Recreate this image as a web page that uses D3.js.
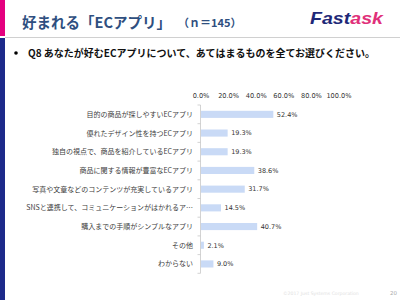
<!DOCTYPE html>
<html>
<head>
<meta charset="utf-8">
<script src="https://cdn.jsdelivr.net/npm/d3@7"></script>
<style>
  body { margin: 0; background: #fff; }
  svg { display: block; }
</style>
</head>
<body>
<svg id="chart" width="400" height="300"></svg>
<script>
// data
var categories = [
  "目的の商品が探しやすいECアプリ",
  "優れたデザイン性を持つECアプリ",
  "独自の視点で、商品を紹介しているECアプリ",
  "商品に関する情報が豊富なECアプリ",
  "写真や文章などのコンテンツが充実しているアプリ",
  "SNSと連携して、コミュニケーションがはかれるア…",
  "購入までの手順がシンプルなアプリ",
  "その他",
  "わからない"
];
var values = [52.4, 19.3, 19.3, 38.6, 31.7, 14.5, 40.7, 2.1, 9.0];
var tickValues = [0, 20, 40, 60, 80, 100];

var jp = "'Noto Sans CJK JP', 'Noto Sans', sans-serif";
var num = "'DejaVu Sans', Verdana, sans-serif";

const svg = d3.select("#chart");

// side stripe + header rule
svg.append("rect").attr("x", 0).attr("y", 0).attr("width", 5).attr("height", 36).attr("fill", "#e4007f");
svg.append("rect").attr("x", 0).attr("y", 38).attr("width", 5).attr("height", 262).attr("fill", "#1d2a8a");
svg.append("line").attr("x1", 5).attr("x2", 400).attr("y1", 37.5).attr("y2", 37.5)
  .attr("stroke", "#d0d0d0").attr("stroke-width", 1);

// title
svg.append("text").attr("x", 22).attr("y", 28)
  .attr("font-family", jp).attr("font-weight", "bold").attr("font-size", "14.5px")
  .attr("fill", "#2f4f80").text("好まれる「ECアプリ」");
svg.append("text").attr("x", 178).attr("y", 27)
  .attr("font-family", jp).attr("font-weight", "bold").attr("font-size", "11px")
  .attr("fill", "#2f4f80").text("（ｎ＝145）");

// logo
var logo = svg.append("text").attr("x", 310).attr("y", 24)
  .attr("font-family", "'Liberation Sans', Arial, sans-serif")
  .attr("font-weight", "bold").attr("font-style", "italic").attr("font-size", "17px")
  .attr("textLength", 73).attr("lengthAdjust", "spacingAndGlyphs");
logo.append("tspan").attr("fill", "#1e2878").text("Fast");
logo.append("tspan").attr("fill", "#e0307a").text("ask");

// question
svg.append("circle").attr("cx", 16).attr("cy", 53).attr("r", 1.8).attr("fill", "#000");
svg.append("text").attr("x", 28).attr("y", 57)
  .attr("font-family", jp).attr("font-weight", "bold").attr("font-size", "10px")
  .attr("fill", "#111").text("Q8 あなたが好むECアプリについて、あてはまるものを全てお選びください。");

// scales
var x = d3.scaleLinear().domain([0, 100]).range([200.5, 338.5]);
var y = d3.scaleBand().domain(categories).range([105, 273.3]).padding(0);
var barH = y.bandwidth() * 0.38;

// top axis labels
var xAxis = d3.axisTop(x).tickValues(tickValues).tickSize(0).tickPadding(0)
  .tickFormat(function (d) { return d3.format(".1f")(d) + "%"; });
var gx = svg.append("g").attr("transform", "translate(0,97.5)").call(xAxis);
gx.select(".domain").remove();
gx.selectAll("text").attr("font-family", num).attr("font-size", "6.6px").attr("fill", "#333")
  .attr("dy", "0");

// left axis line + small ticks at band boundaries
svg.append("line").attr("x1", x(0)).attr("x2", x(0))
  .attr("y1", y.range()[0]).attr("y2", y.range()[1])
  .attr("stroke", "#c8c8c8").attr("stroke-width", 0.8);
var bounds = categories.map(function (c) { return y(c); }).concat([y.range()[1]]);
svg.append("g").selectAll("line").data(bounds).join("line")
  .attr("x1", x(0) - 3).attr("x2", x(0))
  .attr("y1", function (d) { return d; }).attr("y2", function (d) { return d; })
  .attr("stroke", "#c8c8c8").attr("stroke-width", 0.8);

// bars
svg.append("g").selectAll("rect").data(values).join("rect")
  .attr("x", x(0) + 0.5)
  .attr("y", function (d, i) { return y(categories[i]) + (y.bandwidth() - barH) / 2; })
  .attr("width", function (d) { return x(d) - x(0); })
  .attr("height", barH)
  .attr("fill", "#c9daf6");

// value labels
svg.append("g").selectAll("text").data(values).join("text")
  .attr("x", function (d) { return x(d) + 4; })
  .attr("y", function (d, i) { return y(categories[i]) + y.bandwidth() / 2; })
  .attr("dy", "0.35em")
  .attr("font-family", num).attr("font-size", "6.5px").attr("fill", "#333")
  .text(function (d) { return d.toFixed(1) + "%"; });

// category labels
svg.append("g").selectAll("text").data(categories).join("text")
  .attr("x", 193)
  .attr("y", function (d) { return y(d) + y.bandwidth() / 2; })
  .attr("dy", "0.35em")
  .attr("text-anchor", "end")
  .attr("font-family", jp).attr("font-size", "7px").attr("fill", "#404040")
  .text(function (d) { return d; });

// footer
svg.append("text").attr("x", 283).attr("y", 295)
  .attr("font-family", num).attr("font-size", "4.6px").attr("fill", "#e2e2e2")
  .text("©2017 Just Systems Corporation");
svg.append("text").attr("x", 390).attr("y", 295)
  .attr("font-family", num).attr("font-size", "5.5px").attr("fill", "#aaa")
  .text("20");
</script>
</body>
</html>
